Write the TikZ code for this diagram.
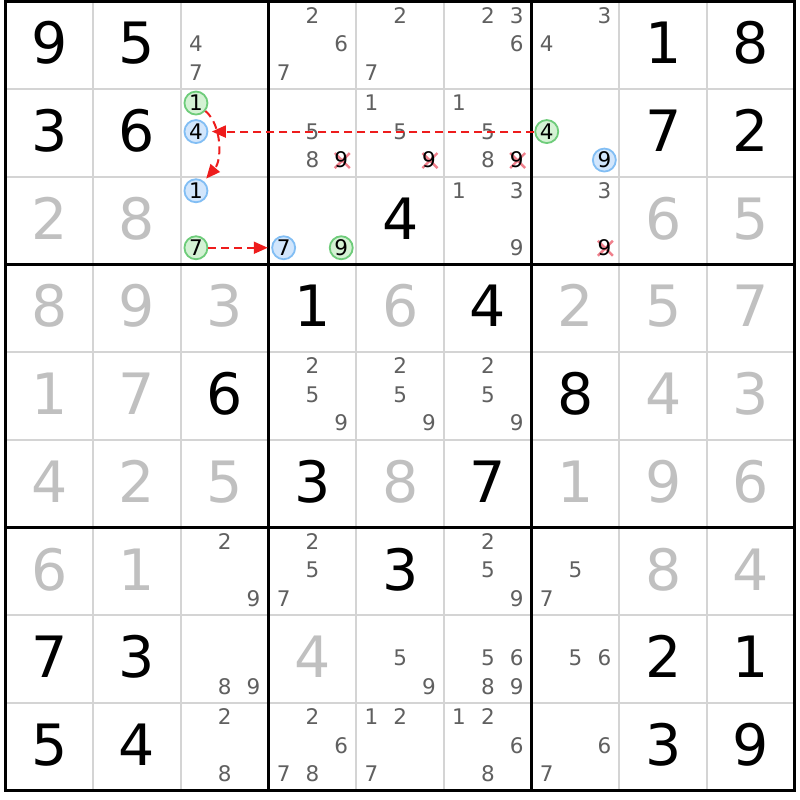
\documentclass[tikz,border=0pt]{standalone}
\usepackage{fontspec}
\setmainfont{DejaVu Sans}
\usetikzlibrary{arrows.meta}
\definecolor{candgray}{RGB}{96,96,96}
\definecolor{solvedgray}{RGB}{192,192,192}
\definecolor{thingrid}{RGB}{212,212,212}
\definecolor{greenfill}{RGB}{212,242,212}
\definecolor{greenline}{RGB}{110,204,122}
\definecolor{bluefill}{RGB}{210,230,252}
\definecolor{blueline}{RGB}{130,190,244}
\definecolor{linkred}{RGB}{238,28,28}
\definecolor{crossred}{RGB}{240,128,140}
\tikzset{
  given/.style={anchor=base, inner sep=0pt, font=\fontsize{57}{57}\selectfont, text=black},
  solved/.style={given, text=solvedgray},
  cand/.style={anchor=base, inner sep=0pt, font=\fontsize{21.5}{21.5}\selectfont, text=candgray},
  crossdigit/.style={cand, text=black},
  ring/.style={circle, inner sep=0pt, minimum size=23pt, line width=1.8pt, font=\fontsize{21.5}{21.5}\selectfont, text=black},
  greenring/.style={ring, draw=greenline, fill=greenfill},
  bluering/.style={ring, draw=blueline, fill=bluefill},
  crossmark/.style={draw=crossred, line width=2.4pt},
  thinline/.style={draw=thingrid, line width=2pt},
  thickline/.style={draw=black, line width=3pt},
  link/.style={draw=linkred, line width=2pt, dash pattern=on 8pt off 5pt, -{Triangle[length=14pt,width=12pt]}, shorten >=3.5pt},
}
\newcommand\givenD[3]{\node[given] (v#1#2) at ({5.5+87.7*(#2-0.5)},{1.5+87.7*(#1-0.5)+18.5}) {#3};}
\newcommand\solvedD[3]{\node[solved] (v#1#2) at ({5.5+87.7*(#2-0.5)},{1.5+87.7*(#1-0.5)+18.5}) {#3};}
\newcommand\candD[3]{%
  \foreach \d in {#3}{%
    \pgfmathtruncatemacro\dc{mod(\d-1,3)-1}%
    \pgfmathtruncatemacro\dr{div(\d-1,3)-1}%
    \node[cand] (k#1#2-\d) at ({5.5+87.7*(#2-0.5)+28.8*\dc},{1.5+87.7*(#1-0.5)-1.5+28.5*\dr+7.8}) {\d};
  }}
\newcommand\circD[4]{%
  \pgfmathtruncatemacro\dc{mod(#3-1,3)-1}%
  \pgfmathtruncatemacro\dr{div(#3-1,3)-1}%
  \node[#4ring] (k#1#2-#3) at ({5.5+87.7*(#2-0.5)+28.8*\dc},{1.5+87.7*(#1-0.5)-1.5+28.5*\dr}) {#3};}
\newcommand\crossD[3]{%
  \pgfmathtruncatemacro\dc{mod(#3-1,3)-1}%
  \pgfmathtruncatemacro\dr{div(#3-1,3)-1}%
  \coordinate (x#1#2) at ({5.5+87.7*(#2-0.5)+28.8*\dc+1},{1.5+87.7*(#1-0.5)-1.5+28.5*\dr+0.5});
  \draw[crossmark] ([shift={(-7.5,-7.5)}]x#1#2) -- ([shift={(7.5,7.5)}]x#1#2);
  \draw[crossmark] ([shift={(-7.5,7.5)}]x#1#2) -- ([shift={(7.5,-7.5)}]x#1#2);
  \node[crossdigit] (k#1#2-#3) at ({5.5+87.7*(#2-0.5)+28.8*\dc},{1.5+87.7*(#1-0.5)-1.5+28.5*\dr+7.8}) {#3};}
\begin{document}
\begin{tikzpicture}[x=1pt,y=-1pt]
\fill[white] (0,0) rectangle (800,800);
\useasboundingbox (0,0) rectangle (800,800);
% thin grid
\foreach \i in {1,2,4,5,7,8}{
  \draw[thinline] ({5.5+87.7*\i},1.5) -- ({5.5+87.7*\i},790.8);
  \draw[thinline] (5.5,{1.5+87.7*\i}) -- (794.8,{1.5+87.7*\i});
}
% thick grid
\foreach \i in {3,6}{
  \draw[thickline] ({5.5+87.7*\i},1.5) -- ({5.5+87.7*\i},790.8);
  \draw[thickline] (5.5,{1.5+87.7*\i}) -- (794.8,{1.5+87.7*\i});
}
\draw[thickline] (5.5,1.5) rectangle (794.8,790.8);
% row 1
\givenD{1}{1}{9}\givenD{1}{2}{5}\candD{1}{3}{4,7}\candD{1}{4}{2,6,7}\candD{1}{5}{2,7}
\candD{1}{6}{2,3,6}\candD{1}{7}{3,4}\givenD{1}{8}{1}\givenD{1}{9}{8}
% row 2
\givenD{2}{1}{3}\givenD{2}{2}{6}\circD{2}{3}{1}{green}\circD{2}{3}{4}{blue}
\candD{2}{4}{5,8}\crossD{2}{4}{9}\candD{2}{5}{1,5}\crossD{2}{5}{9}
\candD{2}{6}{1,5,8}\crossD{2}{6}{9}\circD{2}{7}{4}{green}\circD{2}{7}{9}{blue}
\givenD{2}{8}{7}\givenD{2}{9}{2}
% row 3
\solvedD{3}{1}{2}\solvedD{3}{2}{8}\circD{3}{3}{1}{blue}\circD{3}{3}{7}{green}
\circD{3}{4}{7}{blue}\circD{3}{4}{9}{green}\givenD{3}{5}{4}\candD{3}{6}{1,3,9}
\candD{3}{7}{3}\crossD{3}{7}{9}\solvedD{3}{8}{6}\solvedD{3}{9}{5}
% row 4
\solvedD{4}{1}{8}\solvedD{4}{2}{9}\solvedD{4}{3}{3}\givenD{4}{4}{1}\solvedD{4}{5}{6}
\givenD{4}{6}{4}\solvedD{4}{7}{2}\solvedD{4}{8}{5}\solvedD{4}{9}{7}
% row 5
\solvedD{5}{1}{1}\solvedD{5}{2}{7}\givenD{5}{3}{6}\candD{5}{4}{2,5,9}\candD{5}{5}{2,5,9}
\candD{5}{6}{2,5,9}\givenD{5}{7}{8}\solvedD{5}{8}{4}\solvedD{5}{9}{3}
% row 6
\solvedD{6}{1}{4}\solvedD{6}{2}{2}\solvedD{6}{3}{5}\givenD{6}{4}{3}\solvedD{6}{5}{8}
\givenD{6}{6}{7}\solvedD{6}{7}{1}\solvedD{6}{8}{9}\solvedD{6}{9}{6}
% row 7
\solvedD{7}{1}{6}\solvedD{7}{2}{1}\candD{7}{3}{2,9}\candD{7}{4}{2,5,7}\givenD{7}{5}{3}
\candD{7}{6}{2,5,9}\candD{7}{7}{5,7}\solvedD{7}{8}{8}\solvedD{7}{9}{4}
% row 8
\givenD{8}{1}{7}\givenD{8}{2}{3}\candD{8}{3}{8,9}\solvedD{8}{4}{4}\candD{8}{5}{5,9}
\candD{8}{6}{5,6,8,9}\candD{8}{7}{5,6}\givenD{8}{8}{2}\givenD{8}{9}{1}
% row 9
\givenD{9}{1}{5}\givenD{9}{2}{4}\candD{9}{3}{2,8}\candD{9}{4}{2,6,7,8}\candD{9}{5}{1,2,7}
\candD{9}{6}{1,2,6,8}\candD{9}{7}{6,7}\givenD{9}{8}{3}\givenD{9}{9}{9}
% links
\coordinate (ka) at (222,125);
\coordinate (kb) at (222,160);
\draw[link] (k27-4) -- (k23-4);
\draw[link] (k23-1) .. controls (ka) and (kb) .. (k33-1);
\draw[link] (k33-7) -- (k34-7);
\end{tikzpicture}
\end{document}
